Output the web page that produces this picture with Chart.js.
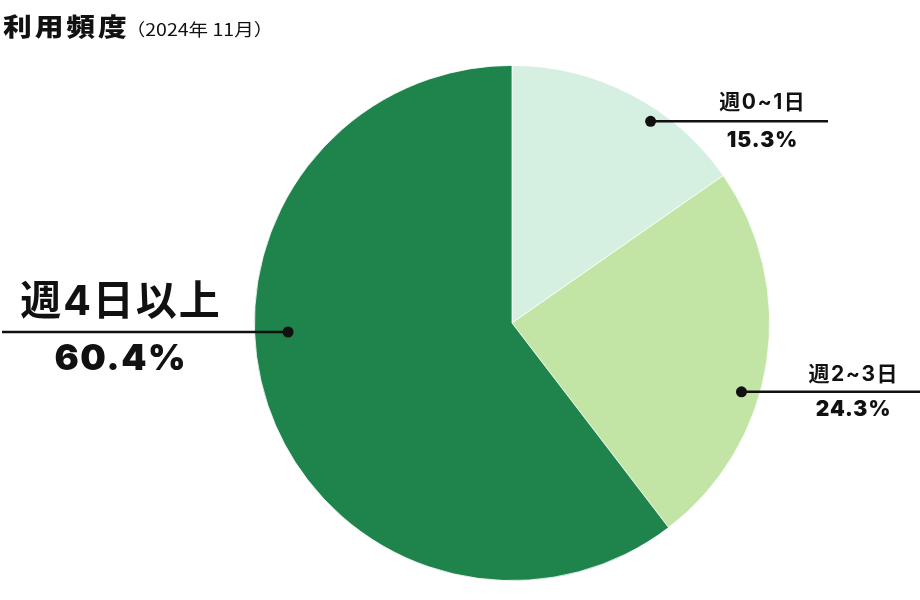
<!DOCTYPE html>
<html>
<head>
<meta charset="utf-8">
<script src="https://cdn.jsdelivr.net/npm/chart.js@4"></script>
<style>
  html, body { margin: 0; padding: 0; background: #fff; }
  #wrap { width: 920px; height: 600px; position: relative; }
</style>
</head>
<body>
<div id="wrap"><canvas id="pie"></canvas></div>
<script>
// data
const categories = ['週0~1日', '週2~3日', '週4日以上'];
const shares = [15.3, 24.3, 60.4];
const title = '利用頻度';
const subtitle = '（2024年 11月）';

const sliceColors = ['#d5efe1', '#c2e4a4', '#1e844b'];

// callout layout: dot angle from top (deg), radius fraction, line end x, text centre x, baselines, sizes, spacing
const callouts = [
  { angle: 34.5, rf: 0.95, lineTo: 828, tx: 762, b1: 109, b2: 147, f1: 21, f2: 21, ls1: 1.5, ls2: 1 },
  { angle: 106.7, rf: 0.93, lineTo: 920, tx: 853, b1: 381, b2: 416, f1: 21, f2: 21, ls1: 1.5, ls2: 1 },
  { angle: 267.7, rf: 0.87, lineTo: 2, tx: 120, b1: 315, b2: 370, f1: 41, f2: 36, ls1: 2, ls2: 1.5 }
];

const FONT = 'Inter, "Noto Sans CJK JP", sans-serif';

function drawText(ctx, txt, x, y, font, opts) {
  opts = opts || {};
  const sx = opts.stretch || 1;
  ctx.save();
  ctx.font = font;
  ctx.letterSpacing = (opts.spacing || 0) + 'px';
  ctx.textBaseline = 'alphabetic';
  ctx.textAlign = 'left';
  const w = (ctx.measureText(txt).width - (opts.spacing || 0)) * sx;
  const left = opts.center ? x - w / 2 : x;
  ctx.translate(left, y);
  ctx.scale(sx, 1);
  ctx.fillText(txt, 0, 0);
  ctx.restore();
  return w;
}

const calloutPlugin = {
  id: 'callouts',
  afterDraw(chart) {
    const ctx = chart.ctx;
    const arcs = chart.getDatasetMeta(0).data;
    ctx.save();
    ctx.fillStyle = '#111';
    ctx.strokeStyle = '#111';
    arcs.forEach((arc, i) => {
      const c = callouts[i];
      const a = c.angle * Math.PI / 180;
      const r = arc.outerRadius * c.rf;
      const dx = arc.x + r * Math.sin(a);
      const dy = arc.y - r * Math.cos(a);
      ctx.lineWidth = 2.5;
      ctx.beginPath();
      ctx.moveTo(dx, dy);
      ctx.lineTo(c.lineTo, dy);
      ctx.stroke();
      ctx.beginPath();
      ctx.arc(dx, dy, 5.5, 0, Math.PI * 2);
      ctx.fill();
      drawText(ctx, categories[i], c.tx, c.b1, 'bold ' + c.f1 + 'px ' + FONT, { center: true, spacing: c.ls1 });
      drawText(ctx, shares[i].toFixed(1) + '%', c.tx, c.b2, '900 ' + c.f2 + 'px ' + FONT, { center: true, spacing: c.ls2 });
    });
    // title + period
    const w = drawText(ctx, title, 3, 36, '900 25px "Noto Sans CJK JP", sans-serif', { stretch: 1.15, spacing: 2.5 });
    drawText(ctx, subtitle, 3 + w - 1, 36, '17px "Noto Sans CJK JP", sans-serif', { stretch: 1.15 });
    ctx.restore();
  }
};

new Chart(document.getElementById('pie'), {
  type: 'pie',
  data: {
    labels: categories,
    datasets: [{
      data: shares,
      backgroundColor: sliceColors,
      borderColor: '#ffffff',
      borderWidth: 0.8
    }]
  },
  options: {
    responsive: true,
    maintainAspectRatio: false,
    animation: false,
    layout: { padding: { top: 65, bottom: 19, left: 254, right: 150 } },
    plugins: {
      legend: { display: false },
      tooltip: { enabled: false }
    }
  },
  plugins: [calloutPlugin]
});
</script>
</body>
</html>
